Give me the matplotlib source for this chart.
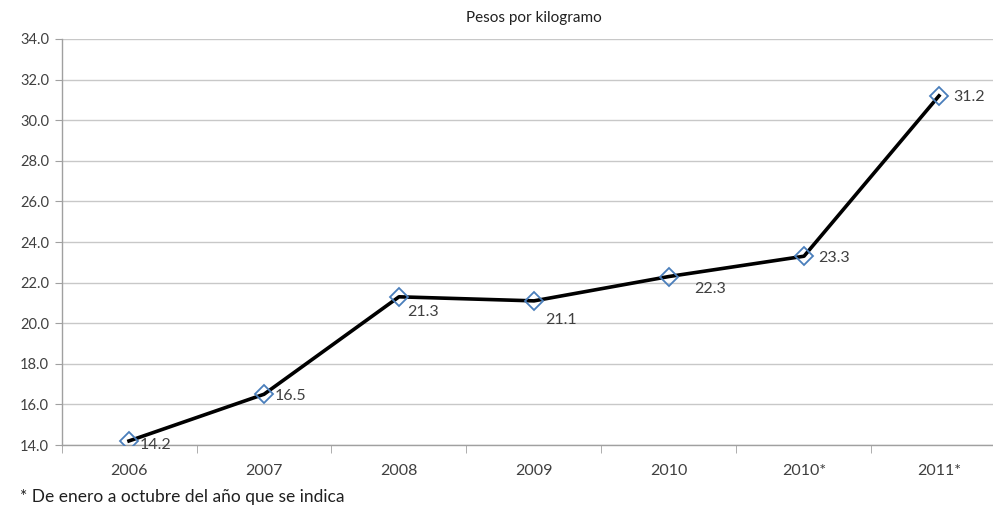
import matplotlib.pyplot as plt
import numpy as np

years = ['2006', '2007', '2008', '2009', '2010', '2010*', '2011*']
prices = [14.2, 16.5, 21.3, 21.1, 22.3, 23.3, 31.2]
# label offsets in points (dx, dy), Excel-like placement
label_offsets = [(8, -3), (8, -1), (6, -11), (8, -14), (18, -9), (10, -1), (10, -1)]

plt.rcParams['font.family'] = ['Lato', 'DejaVu Sans']

fig = plt.figure(figsize=(9.93, 5.12), dpi=100)
# plot area runs past the right edge of the image, like the reference crop
ax = fig.add_axes([61.5 / 993, 67 / 512, 945 / 993, 406 / 512])

x = np.arange(len(years))
ax.plot(x, prices, color='black', linewidth=2.6, zorder=3,
        marker='D', markersize=9, markerfacecolor='none',
        markeredgecolor='#4a7ebb', markeredgewidth=1.3)

for xi, yi, (dx, dy) in zip(x, prices, label_offsets):
    ax.annotate(f"{yi:.1f}", (xi, yi), xytext=(dx, dy), textcoords='offset points',
                ha='left', va='center', fontsize=11.5, color='#404040')

ax.set_xlim(-0.5, len(years) - 0.5)
ax.set_ylim(14, 34)
ax.set_yticks(np.arange(14, 34.1, 2))
ax.set_yticklabels([f"{v:.1f}" for v in np.arange(14, 34.1, 2)])
ax.set_xticks(x)
ax.set_xticklabels(years)
ax.set_xticks(np.arange(-0.5, len(years), 1), minor=True)
ax.tick_params(axis='x', which='major', length=0, pad=14, labelsize=11.5, labelcolor='#404040')
ax.tick_params(axis='x', which='minor', length=6, color='#a0a0a0', direction='out')
ax.tick_params(axis='y', length=5, color='#a0a0a0', labelsize=10.5, labelcolor='#404040', pad=4)

ax.grid(axis='y', color='#c8c8c8', linewidth=1)
ax.set_axisbelow(True)
for side in ['top', 'right']:
    ax.spines[side].set_visible(False)
for side in ['left', 'bottom']:
    ax.spines[side].set_color('#a0a0a0')
    ax.spines[side].set_linewidth(1)

fig.text(534 / 993, 1 - 18 / 512, "Pesos por kilogramo", ha='center', va='center',
         fontsize=11, color='#202020')
fig.text(20 / 993, 1 - 497 / 512, "* De enero a octubre del año que se indica",
         ha='left', va='center', fontsize=12.5, color='#202020')

fig.savefig('out.png', dpi=100)
